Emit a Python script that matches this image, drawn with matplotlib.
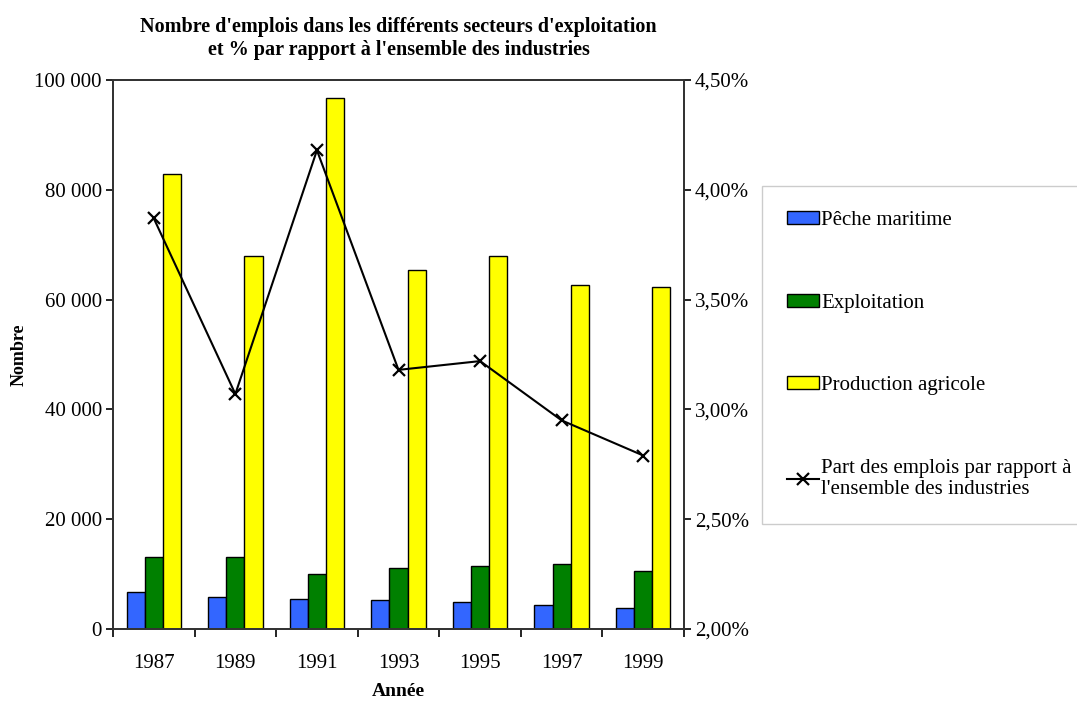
import matplotlib
matplotlib.use("Agg")
import matplotlib.pyplot as plt
import numpy as np
from matplotlib.lines import Line2D
from matplotlib.patches import Patch
from matplotlib.ticker import FuncFormatter

plt.rcParams["font.family"] = ["Liberation Serif", "DejaVu Serif"]

years = ["1987", "1989", "1991", "1993", "1995", "1997", "1999"]
peche = [6800, 5900, 5450, 5200, 4900, 4350, 3800]
exploitation = [13200, 13200, 10100, 11100, 11450, 11900, 10600]
production = [82800, 68000, 96800, 65400, 68000, 62600, 62300]
part_pct = [3.87, 3.07, 4.18, 3.18, 3.22, 2.95, 2.79]

series_names = ["Pêche maritime", "Exploitation", "Production agricole"]
series_colors = ["#3366FF", "#008000", "#FFFF00"]
line_name = "Part des emplois par rapport à\nl'ensemble des industries"

fig = plt.figure(figsize=(10.77, 7.01), dpi=100)
ax = fig.add_axes([113 / 1077, 1 - 629 / 701, (684 - 113) / 1077, (629 - 80) / 701])

x = np.arange(len(years))
width = 1 / 4.5
for i, (vals, color) in enumerate(zip([peche, exploitation, production], series_colors)):
    ax.bar(x + (i - 1) * width, vals, width=width, color=color,
           edgecolor="black", linewidth=1.0, zorder=2)

ax.set_xlim(-0.5, len(years) - 0.5)
ax.set_ylim(0, 100000)
ax.set_yticks(np.arange(0, 100001, 20000))
ax.yaxis.set_major_formatter(FuncFormatter(lambda v, _: f"{int(v):,}".replace(",", " ")))
ax.set_xticks(x)
ax.set_xticklabels(years)
ax.set_xticks(np.arange(-0.5, len(years)), minor=True)
ax.tick_params(axis="x", which="major", length=0, pad=18, labelsize=15)
ax.tick_params(axis="x", which="minor", length=6, width=1.2, direction="out")
ax.tick_params(axis="y", length=5, width=1.2, direction="out", labelsize=15, pad=3)

for sp in ax.spines.values():
    sp.set_color("#333333")
    sp.set_linewidth(1.3)

ax.set_ylabel("Nombre", fontsize=13, fontweight="bold", labelpad=5)
ax.set_xlabel("Année", fontsize=14, fontweight="bold", labelpad=7)
ax.set_title("Nombre d'emplois dans les différents secteurs d'exploitation\n"
             "et % par rapport à l'ensemble des industries",
             fontsize=14.5, fontweight="bold", pad=18, linespacing=1.2)

ax2 = ax.twinx()
ax2.plot(x, part_pct, color="black", linewidth=1.5, marker="x",
         markersize=8, markeredgewidth=1.6, zorder=3)
ax2.set_ylim(2.0, 4.5)
ax2.set_yticks(np.arange(2.0, 4.51, 0.5))
ax2.yaxis.set_major_formatter(FuncFormatter(lambda v, _: f"{v:.2f}%".replace(".", ",")))
ax2.tick_params(axis="y", length=5, width=1.2, direction="out", labelsize=15, pad=3)
for sp in ax2.spines.values():
    sp.set_color("#333333")
    sp.set_linewidth(1.3)

handles = [Patch(facecolor=c, edgecolor="black", linewidth=1.0) for c in series_colors]
handles.append(Line2D([], [], color="black", linewidth=1.5, marker="x",
                      markersize=8, markeredgewidth=1.6))
leg = fig.legend(handles, series_names + [line_name],
                 loc="upper left", bbox_to_anchor=(762 / 1077, 1 - 186 / 701),
                 fontsize=15, frameon=True, fancybox=False, labelspacing=3.05,
                 handlelength=1.55, handleheight=0.6, handletextpad=0.1,
                 borderpad=1.2, borderaxespad=0)
leg.get_frame().set_edgecolor("#c0c0c0")
leg.get_frame().set_linewidth(1.0)

fig.savefig("out.png", dpi=100)
